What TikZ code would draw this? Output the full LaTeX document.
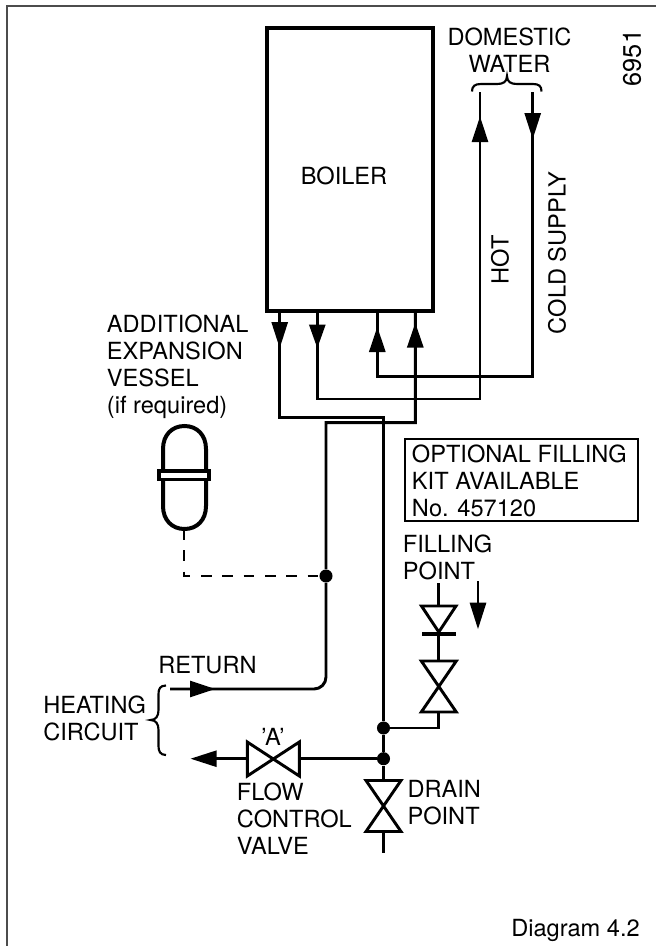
\documentclass[tikz,border=0pt]{standalone}
\usepackage{fontspec}
\setmainfont{TeX Gyre Heros}
\definecolor{framegrey}{gray}{0.3}
\tikzset{
  pipe/.style={line width=2.2pt,draw=black},
  head/.style={fill=black,draw=none},
  dotn/.style={circle,fill=black,inner sep=0pt,minimum size=9.8pt},
  lab/.style={inner sep=0pt,align=left,font=\fontsize{17.7pt}{20.1pt}\selectfont,text=black},
  labc/.style={inner sep=0pt,align=center,font=\fontsize{17.7pt}{20.1pt}\selectfont,text=black},
  valvel/.style={line width=2.2pt,draw=black,fill=white,line join=miter}
}
\newcommand{\vvalve}[3]{\draw[valvel] (#1-17.5,#2) -- (#1+17.5,#2) -- (#1-17.5,#3) -- (#1+17.5,#3) -- cycle;}
\begin{document}
\begin{tikzpicture}[x=0.75pt,y=-0.75pt]
\useasboundingbox (0,0) rectangle (656,946);
\draw[line width=1.7pt,framegrey] (6.7,946) -- (6.7,5.7) -- (656,5.7);
\node[draw,line width=3pt,inner sep=0pt,anchor=north west,minimum height=212pt,text width=124.5pt] (boiler) at (265,26) {};
\node[labc] (boilertxt) at (344,176) {BOILER};
\coordinate (p1t) at (279.7,309); \coordinate (p2t) at (317.3,309);
\coordinate (p3t) at (377.3,309); \coordinate (p4t) at (415.3,309);
\coordinate (j1) at (383.5,728); \coordinate (j2) at (383.5,758.7);
\node[dotn] (d3) at (326,576) {};
\node[dotn] (d1) at (j1) {};
\node[dotn] (d2) at (j2) {};
% pipes
\draw[pipe] (p1t) -- (279.7,417.5) -- (383.5,417.5) -- (d1) -- (d2) -- (383.5,852.7);
\draw[pipe] (p2t) -- (317.3,399) -- (480,399) -- (480,92);
\draw[pipe] (p3t) -- (377.3,376.3) -- (532.7,376.3) -- (532.7,92);
\draw[pipe] (p4t) -- (415.3,422.7) -- (326,422.7) -- (d3) -- (326,677) arc (0:90:12) -- (170,689);
\draw[pipe,dash pattern=on 8pt off 8pt] (184,529) -- (184,576) -- (d3);
% arrows
\fill[head] (271.3,322) -- (288.1,322) -- (279.7,348) -- cycle;
\fill[head] (308.9,324.5) -- (325.7,324.5) -- (317.3,348) -- cycle;
\fill[head] (368.9,352) -- (385.7,352) -- (377.3,327) -- cycle;
\fill[head] (406.9,347.5) -- (423.7,347.5) -- (415.3,323) -- cycle;
\fill[head] (471.6,142) -- (488.4,142) -- (480,116.7) -- cycle;
\fill[head] (524.3,113) -- (541.1,113) -- (532.7,139) -- cycle;
\fill[head] (190,680.6) -- (190,697.4) -- (215,689) -- cycle;
\fill[head] (216.7,750.3) -- (216.7,767.1) -- (190.7,758.7) -- cycle;
\fill[head] (469.6,602.7) -- (486.4,602.7) -- (478,629) -- cycle;
\draw[pipe] (478,581) -- (478,603);
% vessel
\draw[line width=3pt,fill=white] (184.5,529) .. controls (172,529) and (163,520) .. (163,506) -- (163,449) .. controls (163,435) and (172,426) .. (184.5,426) .. controls (197,426) and (206,435) .. (206,449) -- (206,506) .. controls (206,520) and (197,529) .. (184.5,529) -- cycle;
\draw[line width=2.4pt,fill=white] (159,471) rectangle (209,479.5);
% valve A
\draw[pipe] (216,758.7) -- (247.3,758.7);
\draw[pipe] (299.3,758.7) -- (d2);
\draw[valvel] (247.3,742) -- (247.3,776) -- (299.3,742) -- (299.3,776) -- cycle;
% drain
\vvalve{383.5}{780.5}{831.5}
% filling
\draw[pipe] (d1) -- (438.8,728) -- (438.8,712);
\vvalve{438.8}{661}{712}
\draw[pipe] (438.8,661) -- (438.8,583);
\draw[valvel] (421.5,606) -- (456,606) -- (438.8,632) -- cycle;
\draw[line width=3pt] (422,633.5) -- (456,633.5);
% braces
\draw[line width=1.6pt] (166,685.5) .. controls (160,685.5) and (158.5,689) .. (158.5,694) -- (158.5,710) .. controls (158.5,716) and (156,720) .. (150.5,720) .. controls (156,720) and (158.5,724) .. (158.5,730) -- (158.5,746) .. controls (158.5,751) and (160,755) .. (166,755);
\draw[line width=1.6pt] (472,91.5) .. controls (472,86) and (475,84) .. (481,84) -- (497,84) .. controls (503,84) and (507,82) .. (507,76) .. controls (507,82) and (511,84) .. (517,84) -- (533,84) .. controls (539,84) and (541.5,86) .. (541.5,91.5);
% text box
\node[draw,line width=1.5pt,anchor=north west,inner sep=0pt,text width=175pt,minimum height=62pt] (kit) at (404,437.7) {};
\node[lab,anchor=north west] (kittxt) at (411.7,444.7) {OPTIONAL FILLING\\KIT AVAILABLE\\No. 457120};
% labels
\node[labc,anchor=north] (dom) at (509.5,27.8) {DOMESTIC\\WATER};
\node[lab,rotate=90,font=\fontsize{19pt}{21pt}\selectfont] (n6951) at (632,58) {6951};
\node[lab,rotate=90] (hot) at (500,260) {HOT};
\node[lab,rotate=90] (cold) at (557,253) {COLD SUPPLY};
\node[lab,anchor=north west] (add) at (106.7,315) {ADDITIONAL\\EXPANSION\\VESSEL\\(if required)};
\node[lab,anchor=north west] (fp) at (402.7,534.5) {FILLING\\POINT};
\node[lab,anchor=base west] (ret) at (158,673) {RETURN};
\node[lab,anchor=north west] (hc) at (43,695.5) {HEATING\\CIRCUIT};
\node[lab,anchor=base] (a) at (273,745) {'A'};
\node[lab,anchor=north west] (fcv) at (236.7,782.5) {FLOW\\CONTROL\\VALVE};
\node[lab,anchor=north west] (dp) at (407.3,780.5) {DRAIN\\POINT};
\node[lab,anchor=base east] (dg) at (640,936) {Diagram 4.2};
\end{tikzpicture}
\end{document}
